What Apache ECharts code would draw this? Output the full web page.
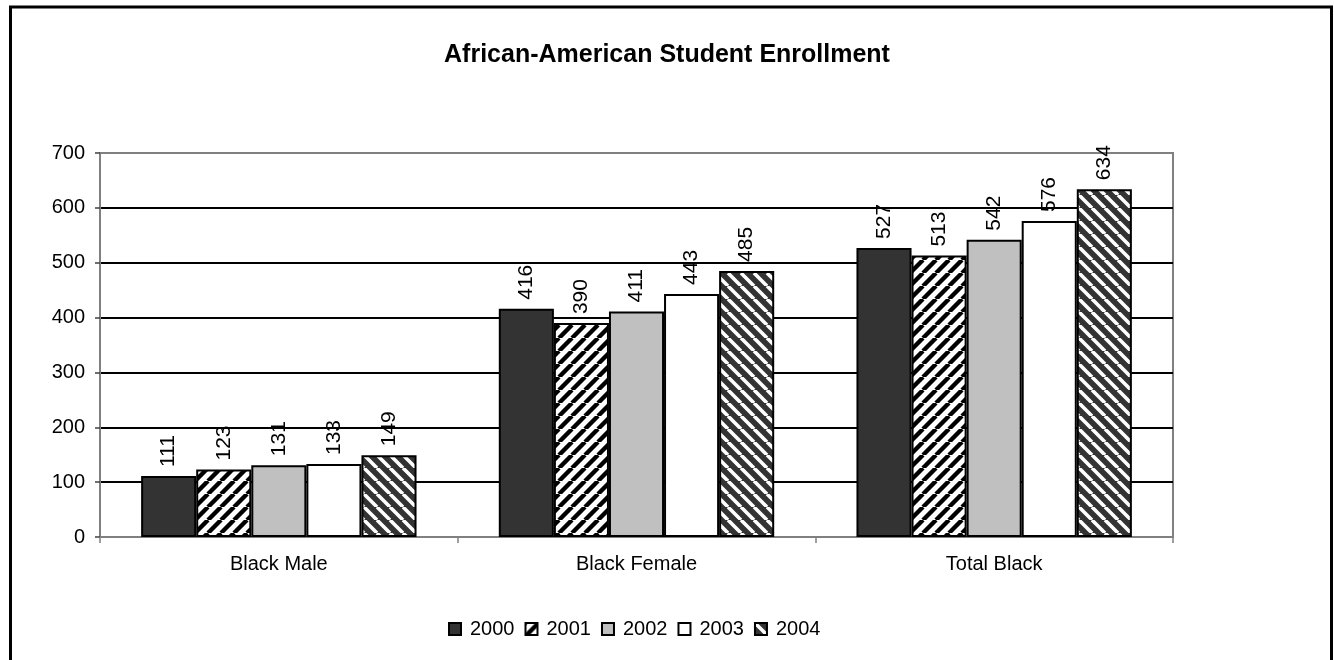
<!DOCTYPE html>
<html>
<head>
<meta charset="utf-8">
<script src="https://cdn.jsdelivr.net/npm/echarts@6/dist/echarts.min.js"></script>
<style>
html,body{margin:0;padding:0;background:#fff;}
#chart{width:1334px;height:660px;}
</style>
</head>
<body>
<div id="chart"></div>
<script>
const categories = ['Black Male', 'Black Female', 'Total Black'];
const years = ['2000', '2001', '2002', '2003', '2004'];
const v2000 = [111, 416, 527];
const v2001 = [123, 390, 513];
const v2002 = [131, 411, 542];
const v2003 = [133, 443, 576];
const v2004 = [149, 485, 634];
const yTicks = [0, 100, 200, 300, 400, 500, 600, 700];

function stripe(bg, fg, dir, lw) {
  const s = 13;
  const c = document.createElement('canvas');
  c.width = s; c.height = s;
  const ctx = c.getContext('2d');
  ctx.fillStyle = bg;
  ctx.fillRect(0, 0, s, s);
  ctx.strokeStyle = fg;
  ctx.lineWidth = lw;
  ctx.beginPath();
  for (let k = -s; k <= s; k += s) {
    if (dir === '/') {
      ctx.moveTo(k, s); ctx.lineTo(k + s, 0);
    } else {
      ctx.moveTo(k, 0); ctx.lineTo(k + s, s);
    }
  }
  ctx.stroke();
  return { image: c, repeat: 'repeat' };
}

const fills = [
  '#333333',
  stripe('#ffffff', '#000000', '/', 4.4),
  '#c0c0c0',
  '#ffffff',
  stripe('#333333', '#ffffff', '\\', 3.6)
];
const values = [v2000, v2001, v2002, v2003, v2004];
const FONT = '"Liberation Sans", Arial, sans-serif';

const series = years.map((y, i) => ({
  name: y,
  type: 'bar',
  data: values[i],
  barGap: '0%',
  barCategoryGap: '23%',
  itemStyle: { color: fills[i], borderColor: '#000', borderWidth: 2 },
  label: {
    show: true,
    position: 'top',
    rotate: 90,
    align: 'left',
    verticalAlign: 'middle',
    distance: 9,
    fontFamily: FONT,
    fontSize: 21,
    color: '#000'
  },
  emphasis: { disabled: true }
}));

const chart = echarts.init(document.getElementById('chart'));
chart.setOption({
  animation: false,
  backgroundColor: '#fff',
  title: {
    text: 'African-American Student Enrollment',
    left: 662,
    textAlign: 'center',
    top: 38,
    textStyle: { fontFamily: FONT, fontSize: 25, fontWeight: 'bold', color: '#000' }
  },
  graphic: [{
    type: 'rect',
    shape: { x: 10.5, y: 7, width: 1321, height: 700 },
    style: { fill: 'none', stroke: '#000', lineWidth: 3 },
    silent: true
  }],
  legend: {
    data: years,
    left: 443,
    top: 614,
    itemWidth: 12,
    itemHeight: 12,
    itemGap: 10,
    icon: 'rect',
    textStyle: { fontFamily: FONT, fontSize: 20, color: '#000', padding: [0, 0, 0, 4] }
  },
  grid: {
    left: 100, top: 153, width: 1073, height: 384,
    show: true, borderColor: '#808080', borderWidth: 2, backgroundColor: 'transparent'
  },
  xAxis: {
    type: 'category',
    data: categories,
    axisLine: { show: true, lineStyle: { color: '#808080', width: 2 } },
    axisTick: { show: true, length: 6, lineStyle: { color: '#808080', width: 1.5 } },
    axisLabel: { fontFamily: FONT, fontSize: 20, color: '#000', margin: 17 },
    splitLine: { show: false }
  },
  yAxis: {
    type: 'value',
    min: yTicks[0],
    max: yTicks[yTicks.length - 1],
    interval: 100,
    axisLine: { show: true, lineStyle: { color: '#808080', width: 2 } },
    axisTick: { show: true, length: 5, lineStyle: { color: '#404040', width: 1.5 } },
    axisLabel: { fontFamily: FONT, fontSize: 20, color: '#000', margin: 15 },
    splitLine: {
      show: true,
      lineStyle: { color: ['#808080', '#000', '#000', '#000', '#000', '#000', '#000', '#808080'], width: 2 }
    }
  },
  series: series
});
</script>
</body>
</html>
